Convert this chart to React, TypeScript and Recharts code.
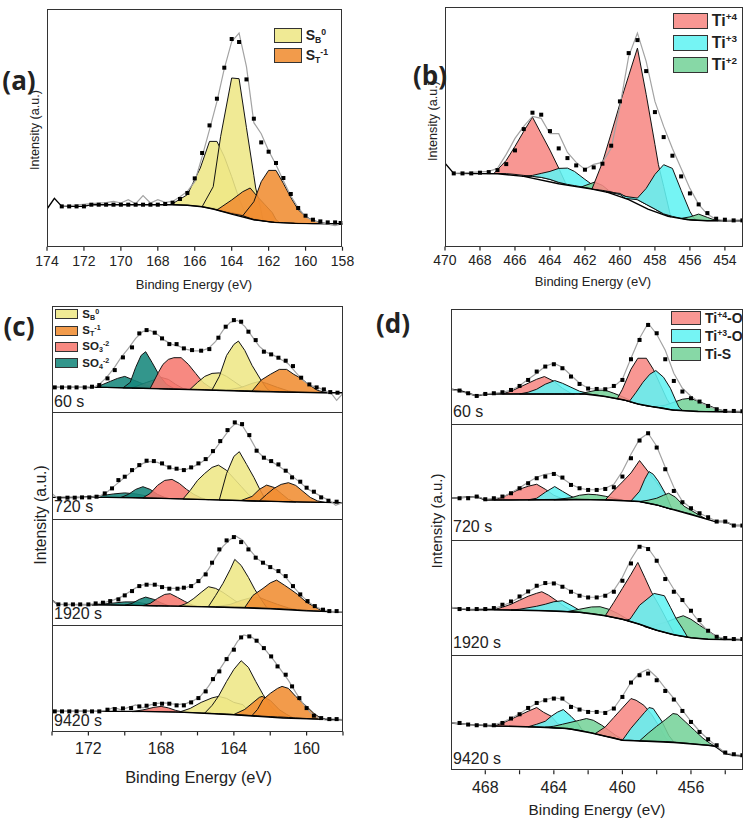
import React from 'react';
import { ComposedChart, XAxis, YAxis, Area, Line } from 'recharts';

type Pt = [number, number];
type Band = [number, number, number]; // [binding energy, background, peak top]

const YELLOW = '#EEE786';
const ORANGE = '#F08D32';
const SALMON = '#F6796F';
const TEAL = '#17877C';
const TI4 = '#F78984';
const TI3 = '#62F3F2';
const TIS = '#76D39A';
const FIT = '#a3a3a3';
const INK = '#222';
const FONT = '"Liberation Sans", Arial, sans-serif';
const BOLD_FONT = '"Open Sans", "Liberation Sans", sans-serif';

// ---------- axes ----------
const A_TICKS = [158, 160, 162, 164, 166, 168, 170, 172, 174];
const B_TICKS = [454, 456, 458, 460, 462, 464, 466, 468, 470];
const C_TICKS = [158, 160, 162, 164, 166, 168, 170, 172, 174];
const C_TICK_LABELS = [160, 164, 168, 172];
const D_TICKS = [454, 456, 458, 460, 462, 464, 466, 468];
const D_TICK_LABELS = [456, 460, 464, 468];
const TIMES = ['60 s', '720 s', '1920 s', '9420 s'];

// ---------- (a) S 2p ----------
const A_POINTS: Pt[] = [[173.2,40.3],[172.8,40.3],[172.4,40.3],[172.0,40.3],[171.6,42],[171.2,42],[170.8,42],[170.4,42],[170.0,42],[169.6,42],[169.2,42],[168.8,42],[168.4,42],[168.0,42],[167.6,42.7],[167.2,44],[166.8,47.7],[166.4,53.7],[166.0,68.3],[165.6,93.7],[165.2,121.3],[164.8,148],[164.4,179],[164.0,207.7],[163.6,204.7],[163.2,167.3],[162.8,128],[162.4,104.3],[162.0,95],[161.6,83.7],[161.2,68.7],[160.8,52.7],[160.4,38.7],[160.0,31],[159.6,27],[159.2,25.3],[158.8,24.3],[158.4,24.3],[158.1,23.7]];
const A_BG: Pt[] = [[174,37.7],[173.6,48.3],[173.2,40.3],[172.0,40.3],[171.6,42],[167.2,42],[166.4,41.5],[165.6,40],[165.0,37.7],[163.9,32],[162.8,27],[161.7,24.3],[160.6,23.3],[158,23]];
const A_FIT: Pt[] = [[173.2,40.3],[171.6,43],[170.8,44],[170.4,45.3],[170.0,43.7],[169.6,47],[169.2,43],[168.8,51],[168.4,43.7],[168.0,47],[167.6,44.3],[167.2,45.3],[166.8,50],[166.4,55.3],[166.0,65],[165.6,90],[165.2,117],[164.8,145],[164.4,178],[164.0,205],[163.6,213.7],[163.2,180],[162.8,124],[162.4,113],[162.0,96],[161.6,82],[161.2,66],[160.8,51],[160.4,39],[160.0,30],[159.6,26],[159.2,24],[158.8,22.5],[158.4,21],[158.0,23]];
const A_SB0_1: Band[] = [[167.2,42,43],[166.4,41.5,52],[165.7,40.2,78.7],[165.2,39,105.3],[164.8,38.3,105.3],[164.4,36.8,90],[164.0,34,70],[163.6,32.5,48],[163.2,30.5,31]];
const A_SB0_2: Band[] = [[165.6,40,40],[165.0,37.7,60],[164.6,36,110],[164.0,34,168.7],[163.6,32.5,168],[163.2,30.5,119],[162.8,27,71],[162.7,27,58.7],[162.45,26.5,40],[162.3,26,26]];
const A_ST_1: Band[] = [[164.8,36.7,36.7],[164.0,33,46.7],[163.4,31,55],[163.0,29,58.7],[162.6,27,50],[162.2,25.5,42],[161.8,24.5,34],[161.6,24.3,27],[161.4,24.2,24.2]];
const A_ST_2: Band[] = [[163.4,31,31],[162.8,27,45],[162.4,26,65],[162.0,25,76.3],[161.6,24.3,76.3],[161.2,24,63.3],[160.8,23.7,49.3],[160.4,23.3,37],[160.0,23.2,30.3],[159.6,23,26.3],[159.2,23,24.3],[158.8,23,23]];

// ---------- (b) Ti 2p ----------
const B_POINTS: Pt[] = [[469.5,73],[469.0,73],[468.5,73],[468.0,73.7],[467.5,74.3],[467.0,76.3],[466.5,82.3],[466.0,96],[465.5,117.3],[465.0,133.7],[464.5,131.7],[464.0,115.3],[463.5,98],[463.0,88.3],[462.5,81],[462.0,76.7],[461.5,79],[461.0,82.7],[460.5,100.7],[460.0,145],[459.5,193.3],[459.0,206.3],[458.5,175.3],[458.0,134.3],[457.5,109.3],[457.0,90.7],[456.5,70],[456.0,53],[455.5,42],[455.0,33.3],[454.5,27.7],[454.0,26.7],[453.5,26],[453.0,26]];
const B_BG: Pt[] = [[470,83.3],[469.5,73],[467.0,72.7],[465.5,70],[463.5,62.7],[461.6,57.3],[460.7,54],[459.5,46.7],[458.4,37.3],[457.25,30],[456.1,26.7],[455.0,25.7],[453,25.7]];
const B_FIT: Pt[] = [[469.5,73],[467.5,75],[467.0,78],[466.5,92],[466.0,108],[465.5,120],[465.0,130],[464.5,128],[464.0,112.7],[463.5,112.7],[463.0,94],[462.5,84],[462.0,77],[461.5,82],[461.0,84],[460.5,98],[460.0,140],[459.5,190],[459.0,213.3],[458.5,185],[458.0,145],[457.5,120],[457.0,98],[456.5,78],[456.0,58],[455.5,42],[455.0,32],[454.5,27],[454.0,26],[453.0,26.5]];
const B_TI4_1: Band[] = [[467.2,73,73],[466.5,72.8,86],[466.0,72,100],[465.5,71,115],[465.0,70,129.3],[464.5,69,112.7],[464.0,67,96.3],[463.5,64,78.3],[463.1,62.5,63]];
const B_TI3_1: Band[] = [[465.6,70,70],[465.0,70,71],[464.5,69,73],[464.0,67,75],[463.5,64,78],[463.0,62,78.3],[462.6,60.8,75],[462.0,59,67],[461.5,57.3,60.7],[461.2,56.5,56.5]];
const B_TI2_1: Band[] = [[462.2,59.5,59.5],[461.45,57.3,64.3],[461.0,56,61],[460.65,55,56],[460.4,54,54]];
const B_TI4_2: Band[] = [[461.6,57.3,57.3],[461.0,56,84],[460.5,54.5,113],[460.0,52,142.7],[459.5,49,170.7],[459.0,46.7,198.3],[458.5,42,152],[458.0,37.3,102],[457.8,35,81.7],[457.5,32.5,60],[457.1,29.5,30]];
const B_TI3_2: Band[] = [[460.8,54.5,54.5],[460.0,52,53],[459.7,48,50],[459.0,46.7,48.3],[458.5,42,58],[458.0,37.3,72],[457.5,32.5,81.7],[457.0,30,78],[456.5,28,56],[456.0,26.7,35],[455.8,26.3,29],[455.6,26,26]];
const B_TI2_2: Band[] = [[456.5,28,28],[456.0,26.7,29.5],[455.5,26,32.3],[455.0,25.7,29],[454.6,25.7,26.5],[454.4,25.7,25.7]];

// ---------- (c) S 2p vs. time ----------
const C1_POINTS: Pt[] = [[173.85,25],[173.45,25],[173.05,25],[172.65,25],[172.2,25],[171.8,25.7],[171.4,27.3],[170.95,34],[170.55,42.3],[170.1,55],[169.6,65],[169.2,79],[168.8,82.3],[168.35,79.7],[167.95,74],[167.55,68.3],[167.15,68.3],[166.75,64],[166.3,62.3],[165.8,61.7],[165.35,63.3],[164.85,74.7],[164.45,85.7],[164.0,92.3],[163.6,90.7],[163.2,80.7],[162.8,72.3],[162.35,60.7],[161.95,58],[161.55,54.7],[161.15,51.7],[160.75,46.3],[160.3,34.7],[159.85,28],[159.45,25],[159.05,23],[158.7,20.3],[158.3,19.7]];
const C1_BG: Pt[] = [[174,25],[171,25],[168,23.5],[165,22],[162,20.5],[159,19.7],[158,19.7]];
const C1_FIT: Pt[] = [[174,25],[172.2,25],[171.8,24],[171.4,28],[171.0,35],[170.6,44],[170.2,55],[169.8,64],[169.4,74],[169.0,81],[168.6,82],[168.2,78],[167.8,72],[167.4,68],[167.0,66],[166.6,63],[166.2,61.5],[165.8,61.5],[165.4,64],[165.0,71],[164.6,82],[164.2,90],[163.8,92],[163.4,86],[163.0,76],[162.6,66],[162.2,60],[161.8,57],[161.4,53],[161.0,48.5],[160.6,40],[160.2,32],[159.8,27],[159.4,25],[159.0,22],[158.6,18],[158.35,12],[158.0,19]];
const C1_SO4_A: Band[] = [[171.6,25,25],[171.2,25,28],[170.8,24.8,31],[170.4,24.7,34],[170.0,24.5,36],[169.6,24.5,33],[169.2,24.3,30],[168.8,24.2,27],[168.4,24,25],[168.0,23.8,23.8]];
const C1_SO4_B: Band[] = [[170.1,24.5,24.5],[169.7,24.5,30],[169.4,24.4,45],[169.1,24.3,57],[168.85,24.2,60.7],[168.5,24,50],[168.1,23.8,37],[167.7,23.6,28],[167.3,23.5,24],[167.1,23.4,23.4]];
const C1_SO3_A: Band[] = [[169.6,24.5,24.5],[168.8,24.2,30],[168.0,23.8,35],[167.6,23.6,33],[167.2,23.5,28],[166.8,23.3,24],[166.6,23.2,23.2]];
const C1_SO3_B: Band[] = [[168.6,24,24],[168.15,23.9,40],[167.9,23.7,48],[167.6,23.6,53],[167.3,23.5,54.7],[166.9,23.3,54.7],[166.5,23.2,48],[166.1,23,39],[165.7,22.8,30],[165.3,22.6,25],[164.9,22.4,22.4]];
const C1_SB0_A: Band[] = [[166.4,23.2,23.2],[166.0,23,30],[165.6,22.8,36],[165.2,22.5,39],[164.8,22.3,39.5],[164.4,22.1,36],[164.0,21.9,31],[163.6,21.7,26],[163.2,21.5,22.5],[162.9,21.4,21.4]];
const C1_SB0_B: Band[] = [[165.2,22.5,22.5],[164.8,22.3,36],[164.4,22.1,57],[164.0,21.9,68],[163.75,21.8,71.3],[163.4,21.6,62],[163.0,21.4,47],[162.5,21.2,32],[162.2,21.1,24],[162.0,20.9,21]];
const C1_ST_A: Band[] = [[164.4,22.1,22.1],[163.6,21.7,25],[163.0,21.4,29],[162.6,21.2,31],[162.2,21,29],[161.6,20.7,25],[161.0,20.4,21.5],[160.6,20.2,20.2]];
const C1_ST_B: Band[] = [[163.0,21.4,21.4],[162.5,21.2,32.3],[162.0,21,38],[161.5,20.7,43],[161.1,20.5,43],[160.7,20.3,38],[160.3,20.1,34],[159.85,19.9,27.3],[159.4,19.8,22],[158.9,19.7,19.7]];

const C2_POINTS: Pt[] = [[173.6,20],[173.15,20.7],[172.75,20.7],[172.35,21],[171.95,21],[171.55,21.7],[171.1,25],[170.7,30],[170.35,38.3],[170.0,41.7],[169.6,48.3],[169.2,53.3],[168.8,57.7],[168.4,57.3],[167.95,55],[167.55,51],[167.15,49.7],[166.75,48.3],[166.35,51],[165.95,55],[165.55,59.3],[165.15,67.3],[164.75,77.3],[164.35,88.3],[163.95,96],[163.55,94.3],[163.15,83.3],[162.75,67.7],[162.35,60.7],[161.95,57.3],[161.55,54],[161.15,47.7],[160.8,41],[160.35,36.7],[160.0,30.7],[159.6,26.7],[159.2,21],[158.8,17.7],[158.35,16.7]];
const C2_BG: Pt[] = [[174,21],[171,21],[168,20],[165,18.5],[162,17],[159,16],[158,15.7]];
const C2_FIT: Pt[] = [[174,25],[173.7,20],[172,21],[171.4,22],[171.0,26],[170.6,32],[170.2,38],[169.8,44],[169.4,50],[169.0,55],[168.6,57],[168.2,56],[167.8,53],[167.4,50],[167.0,49],[166.6,49],[166.2,52],[165.8,56],[165.4,61],[165.0,70],[164.6,80],[164.2,90],[163.9,95],[163.5,92],[163.1,80],[162.7,67],[162.3,60],[161.9,56.5],[161.5,52],[161.1,47],[160.7,41],[160.3,35],[159.9,29],[159.5,25],[159.1,21],[158.7,17.5],[158.4,13],[158.0,16]];
const C2_SO4_A: Band[] = [[172.4,21,21],[171.4,21,22.5],[170.6,21,24.5],[170.0,21,25.5],[169.4,20.8,24.5],[168.8,20.5,22.5],[168.2,20.2,20.5],[167.8,20,20]];
const C2_SO4_B: Band[] = [[170.2,21,21],[169.8,21,24],[169.4,20.8,29],[169.0,20.6,31.7],[168.6,20.4,29],[168.2,20.2,24],[167.8,20,21],[167.6,20,20]];
const C2_SO3: Band[] = [[169.0,20.6,20.6],[168.6,20.4,25],[168.2,20.2,33],[167.8,20,38],[167.4,19.8,39],[167.0,19.6,35],[166.6,19.4,29],[166.2,19.2,24],[165.8,19,20.5],[165.4,18.8,18.8]];
const C2_SB0_A: Band[] = [[166.8,19.4,19.4],[166.4,19.2,28],[166.0,19,38],[165.6,18.9,45],[165.2,18.7,51],[164.85,18.5,53.3],[164.4,18.3,48],[164.0,18.1,40],[163.6,17.9,32],[163.2,17.7,24],[162.8,17.5,18]];
const C2_SB0_B: Band[] = [[164.8,18.5,18.5],[164.4,18.3,45],[164.0,18.1,62],[163.7,17.9,66.7],[163.3,17.7,54],[162.9,17.5,41],[162.6,17.4,30],[162.3,17.2,20],[162.2,17.1,17.1]];
const C2_ST_A: Band[] = [[163.6,17.9,17.9],[163.0,17.6,22],[162.6,17.4,29],[162.2,17.2,33.3],[161.8,17,31],[161.4,16.8,25],[161.0,16.6,19],[160.6,16.4,16.4]];
const C2_ST_B: Band[] = [[162.6,17.4,17.4],[162.2,17.2,24],[161.8,17,30],[161.4,16.8,34],[161.0,16.6,35.7],[160.6,16.4,33],[160.2,16.2,27],[159.8,16.1,21],[159.4,16,17.5],[159.0,16,16]];

const C3_POINTS: Pt[] = [[173.65,21],[173.25,21],[172.85,21],[172.45,21],[172.0,21],[171.6,22],[171.2,22.7],[170.8,24.3],[170.35,26],[170.0,30],[169.6,34.3],[169.2,39.3],[168.8,40.7],[168.35,40.7],[167.95,38.3],[167.55,36.7],[167.1,36.7],[166.75,37.7],[166.35,39.3],[165.95,44.3],[165.55,51],[165.2,62.7],[164.8,76],[164.4,85],[164.0,88.3],[163.6,83.3],[163.2,76],[162.8,67.7],[162.4,62.7],[162.0,58.3],[161.55,54.3],[161.15,49.3],[160.75,39.3],[160.35,31],[159.95,24.3],[159.55,19.3],[159.1,15.7],[158.75,14.3],[158.35,14.3]];
const C3_BG: Pt[] = [[174,25.3],[173.7,21],[171,20.5],[168,19.5],[165,18.3],[162,16.5],[160,14.5],[158,13.3]];
const C3_FIT: Pt[] = [[174,25.3],[173.7,21],[172,21],[171.4,22],[171.0,23.5],[170.6,25.5],[170.2,28.5],[169.8,33],[169.4,37.5],[169.0,40.5],[168.6,41],[168.2,40],[167.8,38],[167.4,37],[167.0,37],[166.6,38],[166.2,41],[165.8,47],[165.4,56],[165.0,68],[164.6,79],[164.2,86],[163.9,89.5],[163.5,85],[163.1,75],[162.7,66.5],[162.3,61.5],[161.9,57.5],[161.5,53],[161.1,47],[160.7,38],[160.3,30],[159.9,23.5],[159.5,18.5],[159.1,15.5],[158.7,14.3],[158.0,13.5]];
const C3_SO4_A: Band[] = [[171.8,20.5,20.5],[170.8,20.3,22],[170.0,20.1,23.5],[169.4,20,23.5],[168.8,19.8,21.5],[168.2,19.6,19.6]];
const C3_SO4_B: Band[] = [[170.0,20.1,20.1],[169.6,20,22],[169.2,19.9,26],[168.85,19.8,28.3],[168.4,19.7,26],[168.0,19.6,22.5],[167.6,19.5,19.8]];
const C3_SO3: Band[] = [[169.0,19.8,19.8],[168.6,19.7,22],[168.2,19.6,27],[167.8,19.5,31],[167.5,19.4,31.7],[167.1,19.3,28],[166.7,19.2,24],[166.3,19,20.5],[166.0,18.9,18.9]];
const C3_SB0_A: Band[] = [[167.0,19.3,19.3],[166.6,19.2,22],[166.2,19,27],[165.8,18.9,33],[165.4,18.8,38.7],[165.0,18.6,37],[164.6,18.5,33],[164.2,18.3,28],[163.8,18.1,23],[163.4,18,19]];
const C3_SB0_B: Band[] = [[165.4,18.8,18.8],[165.0,18.6,30],[164.6,18.5,42],[164.2,18.3,56],[163.95,18.2,66],[163.6,18.1,60],[163.2,17.9,48],[162.85,17.6,36],[162.5,17.4,26],[162.2,17.2,18]];
const C3_ST_A: Band[] = [[165.0,18.6,18.6],[164.2,18.3,21],[163.6,18.1,25],[163.0,17.8,28],[162.6,17.5,28],[162.2,17.2,25],[161.6,16.8,21],[161.0,16.3,17.5],[160.6,16,16]];
const C3_ST_B: Band[] = [[163.4,18,18],[162.95,17.7,30],[162.4,17.3,37],[162.0,17,42.5],[161.65,16.7,45.3],[161.2,16.3,40],[160.8,15.9,35],[160.5,15.5,31],[160.0,15,23],[159.6,14.6,19],[159.2,14.3,15],[159.0,14.2,14.2]];

const C4_POINTS: Pt[] = [[173.85,20],[173.45,20],[173.05,20],[172.65,20],[172.2,20],[171.8,20],[171.4,20],[170.95,21.7],[170.55,22.3],[170.1,23],[169.65,23.3],[169.2,25],[168.8,25.7],[168.35,27.3],[167.95,27.7],[167.55,27.7],[167.15,26],[166.75,26],[166.35,29],[165.95,33.3],[165.55,40],[165.15,52.3],[164.8,60],[164.4,72.3],[164.0,81.7],[163.6,94],[163.15,95],[162.75,90.7],[162.35,83.3],[161.95,75],[161.6,65],[161.15,56.7],[160.8,45],[160.4,33.3],[160.0,23.3],[159.6,15.7],[159.2,13.3],[158.75,12.3],[158.35,12.3]];
const C4_BG: Pt[] = [[174,20],[169,20],[167,19.3],[164,16.7],[161.3,13.3],[158,11.7]];
const C4_FIT: Pt[] = [[174,20],[171.6,20],[171.0,21],[170.6,24],[170.2,21.5],[169.8,24],[169.4,26.5],[169.0,23.5],[168.6,26.5],[168.2,28],[167.8,28.5],[167.4,27.5],[167.0,27],[166.6,28],[166.2,31],[165.8,36],[165.4,45],[165.0,56],[164.6,67],[164.2,78],[163.8,90],[163.45,96.5],[163.0,94],[162.6,88],[162.2,80],[161.8,71],[161.4,61],[161.0,51],[160.6,39],[160.2,28],[159.8,19],[159.4,14],[159.0,11.5],[158.6,11],[158.0,11.7]];
const C4_SO3: Band[] = [[169.6,19.8,19.8],[169.0,19.8,21.5],[168.4,19.7,24],[168.0,19.6,25],[167.6,19.5,23.5],[167.2,19.3,21],[166.8,19.2,19.3]];
const C4_SB0_A: Band[] = [[167.0,19.3,19.3],[166.4,19,23],[165.8,18.5,29],[165.2,18,33.5],[164.85,17.7,35],[164.4,17.3,33],[164.0,16.9,29],[163.5,16.4,26.7],[163.2,16,20],[162.8,15.6,16]];
const C4_SB0_B: Band[] = [[165.6,18.3,18.3],[165.2,18,26],[164.85,17.7,35],[164.4,17.3,50],[164.0,16.9,62],[163.6,16.5,70.7],[163.2,16,64],[162.8,15.6,50],[162.4,15.2,37],[162.0,14.8,26],[161.6,14.4,18],[161.4,14.2,14.2]];
const C4_ST_A: Band[] = [[164.0,16.9,16.9],[163.4,16.3,22],[163.0,15.9,28],[162.6,15.5,34],[162.45,15.3,35],[162.0,14.8,31],[161.5,14.3,21.7],[161.1,14,17],[160.75,13.7,13.7]];
const C4_ST_B: Band[] = [[163.0,15.9,15.9],[162.7,15.6,22],[162.4,15.2,31.7],[162.0,14.8,38],[161.6,14.4,43],[161.35,14.3,45],[161.0,13.9,43],[160.6,13.5,35],[160.0,12.9,25],[159.6,12.5,18],[159.2,12.2,13],[159.0,12.1,12.1]];

// ---------- (d) Ti 2p vs. time ----------
const D1_POINTS: Pt[] = [[469.5,33.7],[469.0,31],[468.5,28.3],[468.0,30.3],[467.5,31],[467.0,32],[466.5,34.3],[466.0,38.3],[465.5,44.3],[465.0,52.7],[464.5,57.7],[464.0,60],[463.5,56],[463.0,47.7],[462.5,40.3],[462.0,35.7],[461.5,35.3],[461.0,35],[460.5,38.3],[460.0,44.3],[459.5,65],[459.0,84.3],[458.5,99.3],[458.0,91],[457.5,65],[457.0,43.3],[456.5,32.7],[456.0,26],[455.5,22.7],[455.0,18.3],[454.5,15],[454.0,13.3],[453.5,13.3],[453.0,13]];
const D1_BG: Pt[] = [[470,35],[469.5,33.7],[469.0,31],[468.5,28.3],[468.0,30.3],[462.2,30.3],[461.0,27.7],[459.9,24.3],[459.1,20.3],[458.3,17.7],[457.1,14.3],[455.6,12.7],[453,12.3]];
const D1_FIT: Pt[] = [[470,35],[468.5,28.5],[468.0,30.5],[467.0,32],[466.5,34],[466.0,38.5],[465.5,45],[465.0,51],[464.5,58],[464.0,61],[463.5,57],[463.0,49],[462.5,41],[462.0,36],[461.5,35],[461.0,35.5],[460.5,37.5],[460.0,45],[459.5,66],[459.0,86],[458.5,101],[458.0,90],[457.5,74],[457.0,51],[456.5,36],[456.0,28],[455.5,22],[455.0,18],[454.5,15],[454.0,13.5],[453.0,13]];
const D1_TI4_A: Band[] = [[467.0,30.3,30.3],[466.5,30.3,33],[466.0,30.3,37],[465.5,30.3,41],[465.0,30.3,45],[464.55,30.3,47.7],[464.0,30.3,43],[463.5,30.3,36],[463.0,30.3,31],[462.8,30.3,30.3]];
const D1_TI3_A: Band[] = [[466.0,30.3,30.3],[465.5,30.3,32],[465.0,30.3,35],[464.5,30.3,40],[463.95,30.3,43.7],[463.5,30.3,41],[463.0,30.3,37],[462.5,30.3,33],[462.0,30.3,31],[461.8,30.3,30.3]];
const D1_TIS_A: Band[] = [[462.5,30.3,30.3],[462.0,30.3,32.3],[461.5,29.3,34],[461.0,27.7,34],[460.5,26,31],[460.0,24.5,27.5],[459.5,22.3,23.5],[459.3,21.3,21.3]];
const D1_TI4_B: Band[] = [[460.3,25.5,25.5],[460.0,24.5,35],[459.5,22.3,55],[459.1,20.5,66],[458.6,18.5,66],[458.2,17.5,55],[457.8,16.5,40],[457.4,15.2,25],[457.0,14.3,14.3]];
const D1_TI3_B: Band[] = [[459.6,22.7,22.7],[459.2,20.8,32],[458.8,19,42],[458.4,17.8,50],[458.05,17.2,53.7],[457.6,16.2,47],[457.2,14.7,36],[456.9,14.2,24.3],[456.7,14,17],[456.5,13.8,13.8]];
const D1_TIS_B: Band[] = [[458.2,17.5,17.5],[457.5,16,19],[457.0,14.3,22],[456.5,13.7,25],[456.05,13.3,26],[455.5,12.9,22.5],[455.0,12.7,19],[454.5,12.6,15.5],[454.0,12.5,13]];

const D2_POINTS: Pt[] = [[469.5,41],[469.0,41],[468.5,42.7],[468.0,40],[467.5,41],[467.0,42.7],[466.5,46],[466.0,51],[465.5,56],[465.0,61],[464.5,62.7],[464.0,65.3],[463.5,61.7],[463.0,54.3],[462.5,51],[462.0,49.3],[461.5,49.3],[461.0,50.3],[460.5,52],[460.0,62.7],[459.5,81],[459.0,98.7],[458.5,106],[458.0,91.7],[457.5,70],[457.0,48.3],[456.5,37],[456.0,31],[455.5,26],[455.0,22],[454.5,17.7],[454.0,17.7],[453.5,13.7],[453.0,13.7]];
const D2_BG: Pt[] = [[470,41],[468.5,42.7],[468.0,39.3],[466.7,39.3],[462.8,39.8],[460.9,39.3],[459.0,37.7],[458.0,34.3],[457.0,29.3],[455.6,22.7],[454.6,17.7],[454.0,17.7],[453.5,13.7],[453,13.7]];
const D2_FIT: Pt[] = [[470,41],[468.5,42.7],[468.0,40],[467.0,42],[466.5,46.5],[466.0,51.5],[465.5,57],[465.0,62],[464.5,65],[464.0,66],[463.5,61],[463.0,55],[462.5,51],[462.0,49.5],[461.5,49.5],[461.0,51],[460.5,55],[460.0,68],[459.5,85],[459.0,100],[458.5,106],[458.0,93],[457.5,72],[457.0,52],[456.5,38],[456.0,31],[455.5,26],[455.0,22],[454.5,18],[454.0,17.7],[453.5,14],[453.0,13.7]];
const D2_TI4_A: Band[] = [[467.5,39.3,39.3],[467.0,39.3,42],[466.5,39.3,46],[466.0,39.4,50],[465.5,39.4,53],[465.0,39.5,55],[464.5,39.5,50],[464.0,39.5,44],[463.5,39.6,40.5],[463.2,39.6,39.6]];
const D2_TI3_A: Band[] = [[465.5,39.4,39.4],[465.0,39.5,41],[464.5,39.5,47],[463.95,39.5,52.7],[463.5,39.6,48],[463.0,39.7,43],[462.6,39.8,40],[462.4,39.8,39.8]];
const D2_TIS_A: Band[] = [[464.0,39.5,39.5],[463.0,39.7,41.5],[462.5,39.8,44],[462.0,39.8,45],[461.5,39.6,44.5],[461.0,39.4,43],[460.5,39.2,41],[460.0,38.9,39.2]];
const D2_TI4_B: Band[] = [[461.0,39.4,39.4],[460.5,39.2,48.7],[460.0,38.9,57.3],[459.5,38.3,66.3],[459.0,37.7,78.7],[458.5,36,67.7],[458.0,34.3,57],[457.5,31.8,45],[457.1,29.8,30]];
const D2_TI3_B: Band[] = [[459.5,38.3,38.3],[459.0,37.7,48],[458.7,37,60],[458.45,36.2,67.7],[458.2,35.3,65],[457.9,34,58],[457.5,31.8,46],[457.3,30.8,38],[457.1,29.8,29.8]];
const D2_TIS_B: Band[] = [[459.0,37.7,37.7],[458.5,36,39],[458.0,34.3,41],[457.6,32.3,44],[457.3,30.8,46],[456.9,29.5,42],[456.4,27,33],[456.0,25.3,29],[455.5,22.3,24],[455.2,21,21]];

const D3_POINTS: Pt[] = [[469.5,46.2],[469.0,46.2],[468.5,46.2],[468.0,46.2],[467.5,47.2],[467.0,50.5],[466.5,53.8],[466.0,58.8],[465.5,63.8],[465.0,69.5],[464.5,72.2],[464.0,71.8],[463.5,68.5],[463.0,63.5],[462.5,59.5],[462.0,57.8],[461.5,57.8],[461.0,59.5],[460.5,63.5],[460.0,74.5],[459.5,91.8],[459.0,108.5],[458.5,106.2],[458.0,94.5],[457.5,76.2],[457.0,63.5],[456.5,55.2],[456.0,44.5],[455.5,35.2],[455.0,24.5],[454.5,18.5],[454.0,17.2],[453.5,16.2],[453.0,16.2]];
const D3_BG: Pt[] = [[470,47.8],[469.0,45.5],[467.5,45.5],[464.5,44.5],[462.5,43],[461.0,39.5],[460.0,36],[459.0,31],[458.0,25],[457.0,20.5],[456.0,17.5],[455.0,16],[453,15.5]];
const D3_FIT: Pt[] = [[470,47.8],[469.0,46],[467.5,47],[467.0,49.5],[466.5,53],[466.0,58],[465.5,63.5],[465.0,68.5],[464.5,71.5],[464.0,72.5],[463.5,69],[463.0,64],[462.5,60],[462.0,58],[461.5,58],[461.0,60],[460.5,65],[460.0,78],[459.5,96],[459.0,109.5],[458.5,107],[458.0,95],[457.5,80],[457.0,66],[456.5,55],[456.0,44],[455.5,33],[455.0,24],[454.5,18.5],[454.0,17],[453.0,16]];
const D3_TI4_A: Band[] = [[467.5,45.5,45.5],[467.0,45.3,48],[466.5,45.2,51],[466.0,45,55],[465.5,44.9,59],[465.0,44.8,62],[464.7,44.7,63.5],[464.3,44.5,60],[463.8,44.2,54],[463.3,43.8,48],[462.8,43.3,43.3]];
const D3_TI3_A: Band[] = [[466.5,45.2,45.2],[466.0,45,46],[465.0,44.8,49],[464.5,44.5,51],[464.0,44.3,53.5],[463.5,44,54.5],[463.0,43.5,50],[462.6,43.1,46],[462.2,42.3,42.3]];
const D3_TIS_A: Band[] = [[463.2,43.7,43.7],[462.5,43,46],[461.8,41.8,48.3],[461.3,40.5,48.5],[460.8,38.7,46],[460.3,37,42],[459.8,35,37],[459.4,33,33]];
const D3_TI4_B: Band[] = [[461.0,39.5,39.5],[460.5,37.8,52.9],[460.0,36,66.9],[459.5,33.5,80.9],[459.1,31.5,92.8],[458.7,29,78],[458.3,26.5,63],[457.8,24,48],[457.4,22.3,35],[457.0,20.5,22],[456.9,20.2,20.2]];
const D3_TI3_B: Band[] = [[459.8,35,35],[459.55,34,36.2],[459.0,31,50],[458.15,25.8,61.8],[457.55,23,59.5],[457.2,21.3,48],[456.85,20,36.2],[456.5,19,27],[456.2,18.2,18.2]];
const D3_TIS_B: Band[] = [[458.7,28.5,28.5],[458.0,25,30.5],[457.4,22.5,33.5],[456.85,20,37.2],[456.45,18.8,39.5],[456.0,17.5,36],[455.5,16.7,30],[455.0,16,24.5],[454.6,15.8,20],[454.2,15.7,16.5],[454.0,15.6,15.6]];

const D4_POINTS: Pt[] = [[469.5,47.3],[469.0,45.7],[468.5,45],[468.0,45],[467.5,45],[467.0,47.3],[466.5,51.7],[466.0,56],[465.5,62.3],[465.0,67.3],[464.5,70],[464.0,71.7],[463.5,71.7],[463.0,63.3],[462.5,60.7],[462.0,58.3],[461.5,58.3],[461.0,57.3],[460.5,61.7],[460.0,73.3],[459.5,87.7],[459.0,95],[458.5,96.7],[458.0,90],[457.5,79.3],[457.0,70.7],[456.5,59.3],[456.0,48.3],[455.5,38.3],[455.0,31],[454.5,25],[454.0,17.7],[453.5,16],[453.0,15]];
const D4_BG: Pt[] = [[470,47.3],[469.0,45.7],[467.5,44.3],[465.1,43.3],[463.2,41.7],[461.8,37.3],[460.8,33.3],[460.0,30],[458.9,29.3],[457.0,27.7],[455.0,25],[454.6,24],[454.0,16.7],[453.5,15],[453,14.3]];
const D4_FIT: Pt[] = [[470,47.3],[469.0,45.7],[468.0,45],[467.5,45.5],[467.0,48],[466.5,52],[466.0,56.5],[465.5,62],[465.0,67],[464.5,70.5],[464.0,72.7],[463.5,71],[463.0,65],[462.5,61],[462.0,59],[461.5,58.5],[461.0,58],[460.5,62],[460.0,74],[459.5,88],[459.0,97],[458.5,101],[458.0,93],[457.5,82],[457.0,72],[456.5,60],[456.0,49],[455.5,39],[455.0,31],[454.5,24],[454.0,17.5],[453.5,15.5],[453.0,15]];
const D4_TI4_A: Band[] = [[467.5,44.3,44.3],[467.0,44.1,47],[466.5,43.9,51],[466.0,43.7,55],[465.5,43.5,59],[465.0,43.3,62.7],[464.6,43,58],[464.15,42.6,54],[463.8,42.3,47],[463.4,42,43],[463.2,41.7,41.7]];
const D4_TI3_A: Band[] = [[465.5,43.5,43.5],[465.0,43.3,46],[464.5,43,49],[464.15,42.6,54],[463.8,42.3,58],[463.45,41.9,60.7],[463.0,41,54],[462.6,40,47],[462.3,39,39]];
const D4_TIS_A: Band[] = [[464.5,43,43],[464.0,42.6,44],[463.5,42.1,46],[463.0,41.3,48],[462.5,40,50],[462.1,38.5,51.7],[461.7,37,50],[461.2,35,45],[460.8,33.3,40],[460.4,31.7,35],[460.0,30,31]];
const D4_TI4_B: Band[] = [[461.6,36.5,36.5],[461.0,34,43.3],[460.5,32.5,52.8],[460.0,30,62.3],[459.5,29.9,71.7],[459.2,29.8,70],[458.75,29.4,65],[458.3,29.1,56],[457.9,28.9,45],[457.5,28.7,33],[457.3,28.6,28.6]];
const D4_TI3_B: Band[] = [[460.0,30,30],[459.5,29.9,42],[459.0,29.4,52],[458.7,29.3,58],[458.45,29.2,62.7],[458.2,29,61.7],[457.7,28.8,49],[457.3,28.5,35],[457.0,28.2,28.2]];
const D4_TIS_B: Band[] = [[459.0,29.4,29.4],[458.5,29.2,37],[458.0,29,44],[457.5,28.7,50.5],[457.05,28.2,56.7],[456.8,27.9,56],[456.3,27.2,48],[455.8,26.3,40],[455.3,25.3,32],[454.9,24.8,27],[454.6,24,24]];

// ---------- helpers ----------
type Peak = { pts: Band[]; color: string };
type SpecProps = {
  left: number; top: number; width: number; height: number;
  domain: [number, number]; ticks: number[]; labels: number[] | null;
  fontSize?: number; tickGap?: number;
  points: Pt[]; fit: Pt[]; bg: Pt[]; peaks: Peak[];
};

const PAD = 24;
const toPts = (a: Pt[]) => a.map(([e, v]) => ({ e, v }));
const toBand = (a: Band[]) => a.map(([e, lo, hi]) => ({ e, r: [lo, hi] }));

function Spectrum(p: SpecProps) {
  const axisH = p.labels ? 34 : 6;
  return (
    <div style={{ position: 'absolute', left: p.left - PAD, top: p.top - 4 }}>
      <ComposedChart width={p.width + 2 * PAD} height={p.height + 4 + axisH}
        margin={{ top: 4, right: PAD, bottom: 0, left: PAD }}>
        <XAxis dataKey="e" type="number" domain={p.domain} reversed allowDataOverflow
          ticks={p.ticks} interval={0} height={axisH} axisLine={false}
          tickSize={4} tickMargin={p.tickGap ?? 5}
          tickLine={{ stroke: INK, strokeWidth: 1.2 }}
          tick={p.labels ? { fill: INK, fontSize: p.fontSize, fontFamily: FONT } : false}
          tickFormatter={(v: number) => (p.labels && p.labels.includes(v) ? String(v) : '')} />
        <YAxis hide domain={[0, p.height]} allowDataOverflow />
        {p.peaks.map((pk, i) => (
          <Area key={i} data={toBand(pk.pts)} dataKey="r" type="linear" fill={pk.color}
            fillOpacity={0.88} stroke="#111" strokeWidth={1} isAnimationActive={false} />
        ))}
        <Line data={toPts(p.bg)} dataKey="v" type="linear" stroke="#000" strokeWidth={1.4}
          dot={false} isAnimationActive={false} />
        <Line data={toPts(p.fit)} dataKey="v" type="linear" stroke={FIT} strokeWidth={1.2}
          dot={false} isAnimationActive={false} />
        <Line data={toPts(p.points)} dataKey="v" stroke="none" isAnimationActive={false}
          dot={(d: any) => <rect key={d.index} x={d.cx - 2} y={d.cy - 2} width={4} height={4} fill="#000" />} />
      </ComposedChart>
    </div>
  );
}

function Frame({ x, y, w, h, bottom = true }: { x: number; y: number; w: number; h: number; bottom?: boolean }) {
  return (
    <div style={{
      position: 'absolute', left: x, top: y, width: w, height: h, boxSizing: 'border-box',
      borderStyle: 'solid', borderColor: '#333',
      borderWidth: `1.4px 1.4px ${bottom ? 1.4 : 0}px 1.4px`, pointerEvents: 'none',
    }} />
  );
}

function Txt({ cx, cy, size, rotate = 0, bold = false, family = FONT, children }: any) {
  return (
    <div style={{
      position: 'absolute', left: cx, top: cy, transform: `translate(-50%, -50%) rotate(${rotate}deg)`,
      fontSize: size, fontFamily: family, fontWeight: bold ? 700 : 400, lineHeight: 1,
      whiteSpace: 'nowrap', color: INK,
    }}>{children}</div>
  );
}

function Tag({ x, base, size, children }: any) {
  return (
    <div style={{
      position: 'absolute', left: x, top: base - size * 0.85, fontSize: size, fontFamily: FONT,
      lineHeight: 1, whiteSpace: 'nowrap', color: INK,
    }}>{children}</div>
  );
}

const Sup = ({ children }: any) => <span style={{ fontSize: '0.62em', verticalAlign: '0.6em', lineHeight: 0 }}>{children}</span>;
const Sub = ({ children }: any) => <span style={{ fontSize: '0.62em', verticalAlign: '-0.35em', lineHeight: 0 }}>{children}</span>;

function Key({ x, y, w, h, color, size, children }: any) {
  return (
    <div style={{ position: 'absolute', left: x, top: y, height: h, display: 'flex', alignItems: 'center' }}>
      <div style={{ width: w, height: h, boxSizing: 'border-box', border: '1.3px solid #333', background: '#fff' }}>
        <div style={{ width: '100%', height: '100%', background: color, opacity: 0.88 }} />
      </div>
      <div style={{ marginLeft: 4, fontSize: size, fontWeight: 700, fontFamily: FONT, lineHeight: 1, whiteSpace: 'nowrap', color: INK }}>
        {children}
      </div>
    </div>
  );
}

const SB0 = () => <>S<Sub>B</Sub><Sup>0</Sup></>;
const ST1 = () => <>S<Sub>T</Sub><Sup>-1</Sup></>;

// ---------- layout of the stacked panels ----------
const C_ROWS = [
  { points: C1_POINTS, fit: C1_FIT, bg: C1_BG, peaks: [
    { pts: C1_SO4_A, color: TEAL }, { pts: C1_SO3_A, color: SALMON }, { pts: C1_SO4_B, color: TEAL },
    { pts: C1_SO3_B, color: SALMON }, { pts: C1_SB0_A, color: YELLOW }, { pts: C1_ST_A, color: ORANGE },
    { pts: C1_SB0_B, color: YELLOW }, { pts: C1_ST_B, color: ORANGE }] },
  { points: C2_POINTS, fit: C2_FIT, bg: C2_BG, peaks: [
    { pts: C2_SO4_A, color: TEAL }, { pts: C2_SO4_B, color: TEAL }, { pts: C2_SO3, color: SALMON },
    { pts: C2_SB0_A, color: YELLOW }, { pts: C2_SB0_B, color: YELLOW },
    { pts: C2_ST_A, color: ORANGE }, { pts: C2_ST_B, color: ORANGE }] },
  { points: C3_POINTS, fit: C3_FIT, bg: C3_BG, peaks: [
    { pts: C3_SO4_A, color: TEAL }, { pts: C3_SO4_B, color: TEAL }, { pts: C3_SO3, color: SALMON },
    { pts: C3_SB0_A, color: YELLOW }, { pts: C3_ST_A, color: ORANGE }, { pts: C3_SB0_B, color: YELLOW },
    { pts: C3_ST_B, color: ORANGE }] },
  { points: C4_POINTS, fit: C4_FIT, bg: C4_BG, peaks: [
    { pts: C4_SO3, color: SALMON }, { pts: C4_SB0_A, color: YELLOW }, { pts: C4_SB0_B, color: YELLOW },
    { pts: C4_ST_A, color: ORANGE }, { pts: C4_ST_B, color: ORANGE }] },
];
const D_ROWS = [
  { points: D1_POINTS, fit: D1_FIT, bg: D1_BG, peaks: [
    { pts: D1_TI4_A, color: TI4 }, { pts: D1_TI3_A, color: TI3 }, { pts: D1_TIS_A, color: TIS },
    { pts: D1_TI4_B, color: TI4 }, { pts: D1_TIS_B, color: TIS }, { pts: D1_TI3_B, color: TI3 }] },
  { points: D2_POINTS, fit: D2_FIT, bg: D2_BG, peaks: [
    { pts: D2_TI4_A, color: TI4 }, { pts: D2_TI3_A, color: TI3 }, { pts: D2_TIS_A, color: TIS },
    { pts: D2_TI4_B, color: TI4 }, { pts: D2_TI3_B, color: TI3 }, { pts: D2_TIS_B, color: TIS }] },
  { points: D3_POINTS, fit: D3_FIT, bg: D3_BG, peaks: [
    { pts: D3_TI4_A, color: TI4 }, { pts: D3_TI3_A, color: TI3 }, { pts: D3_TIS_A, color: TIS },
    { pts: D3_TIS_B, color: TIS }, { pts: D3_TI4_B, color: TI4 }, { pts: D3_TI3_B, color: TI3 }] },
  { points: D4_POINTS, fit: D4_FIT, bg: D4_BG, peaks: [
    { pts: D4_TI4_A, color: TI4 }, { pts: D4_TI3_A, color: TI3 }, { pts: D4_TIS_A, color: TIS },
    { pts: D4_TI4_B, color: TI4 }, { pts: D4_TI3_B, color: TI3 }, { pts: D4_TIS_B, color: TIS }] },
];
const C_TOPS = [306, 412.4, 518.8, 625.2];
const C_H = 106.4;
const C_TAG_BASE = [408, 513, 620, 727];
const D_TOPS = [309, 424.25, 539.5, 654.75];
const D_H = 115.25;
const D_TAG_BASE = [418, 533, 649, 765];

export default function App() {
  return (
    <div style={{ position: 'absolute', left: 0, top: 0, width: 750, height: 820, background: '#fff', overflow: 'hidden' }}>
      {/* (a) */}
      <Spectrum left={46.5} top={9.3} width={295.5} height={237.7} domain={[158, 174]}
        ticks={A_TICKS} labels={A_TICKS} fontSize={14} tickGap={5}
        points={A_POINTS} fit={A_FIT} bg={A_BG}
        peaks={[{ pts: A_SB0_1, color: YELLOW }, { pts: A_SB0_2, color: YELLOW },
          { pts: A_ST_1, color: ORANGE }, { pts: A_ST_2, color: ORANGE }]} />
      <Frame x={46.5} y={9.3} w={295.5} h={237.7} />
      <Key x={274} y={28.3} w={27.7} h={14.4} color={YELLOW} size={14}><SB0 /></Key>
      <Key x={274} y={48.3} w={27.7} h={14.4} color={ORANGE} size={14}><ST1 /></Key>
      <Txt cx={35} cy={130} size={12.6} rotate={-90}>Intensity (a.u.)</Txt>
      <Txt cx={194} cy={284} size={13}>Binding Energy (eV)</Txt>
      <Txt cx={19} cy={80} size={26} bold family={BOLD_FONT}>(a)</Txt>

      {/* (b) */}
      <Spectrum left={445.3} top={7.3} width={297.4} height={239.4} domain={[453, 470]}
        ticks={B_TICKS} labels={B_TICKS} fontSize={14} tickGap={5}
        points={B_POINTS} fit={B_FIT} bg={B_BG}
        peaks={[{ pts: B_TI4_1, color: TI4 }, { pts: B_TI3_1, color: TI3 }, { pts: B_TI2_1, color: TIS },
          { pts: B_TI4_2, color: TI4 }, { pts: B_TI3_2, color: TI3 }, { pts: B_TI2_2, color: TIS }]} />
      <Frame x={445.3} y={7.3} w={297.4} h={239.4} />
      <Key x={673} y={12.7} w={34.7} h={16.3} color={TI4} size={16}>Ti<Sup>+4</Sup></Key>
      <Key x={673} y={35} w={34.7} h={16.3} color={TI3} size={16}>Ti<Sup>+3</Sup></Key>
      <Key x={673} y={56.7} w={34.7} h={16.3} color={TIS} size={16}>Ti<Sup>+2</Sup></Key>
      <Txt cx={433} cy={121} size={12.6} rotate={-90}>Intensity (a.u.)</Txt>
      <Txt cx={593} cy={281} size={13}>Binding Energy (eV)</Txt>
      <Txt cx={430} cy={75} size={26} bold family={BOLD_FONT}>(b)</Txt>

      {/* (c) */}
      {C_ROWS.map((row, i) => (
        <Spectrum key={i} left={52.3} top={C_TOPS[i]} width={291} height={C_H} domain={[158, 174]}
          ticks={C_TICKS} labels={i === 3 ? C_TICK_LABELS : null} fontSize={16} tickGap={7}
          points={row.points} fit={row.fit} bg={row.bg} peaks={row.peaks} />
      ))}
      {C_TOPS.map((t, i) => <Frame key={i} x={52.3} y={t} w={291} h={C_H} bottom={i === 3} />)}
      {TIMES.map((s, i) => <Tag key={i} x={54} base={C_TAG_BASE[i]} size={16}>{s}</Tag>)}
      <Key x={55} y={309.3} w={23.3} h={10} color={YELLOW} size={11.5}><SB0 /></Key>
      <Key x={55} y={325.7} w={23.3} h={10} color={ORANGE} size={11.5}><ST1 /></Key>
      <Key x={55} y={341.7} w={23.3} h={10} color={SALMON} size={11.5}>SO<Sub>3</Sub><Sup>-2</Sup></Key>
      <Key x={55} y={358.3} w={23.3} h={10} color={TEAL} size={11.5}>SO<Sub>4</Sub><Sup>-2</Sup></Key>
      <Txt cx={41} cy={515} size={15.7} rotate={-90}>Intensity (a.u.)</Txt>
      <Txt cx={198.5} cy={777} size={16.4}>Binding Energy (eV)</Txt>
      <Txt cx={19} cy={326} size={26} bold family={BOLD_FONT}>(c)</Txt>

      {/* (d) */}
      {D_ROWS.map((row, i) => (
        <Spectrum key={i} left={451.3} top={D_TOPS[i]} width={291.4} height={D_H} domain={[453, 470]}
          ticks={D_TICKS} labels={i === 3 ? D_TICK_LABELS : null} fontSize={16} tickGap={7}
          points={row.points} fit={row.fit} bg={row.bg} peaks={row.peaks} />
      ))}
      {D_TOPS.map((t, i) => <Frame key={i} x={451.3} y={t} w={291.4} h={D_H} bottom={i === 3} />)}
      {TIMES.map((s, i) => <Tag key={i} x={453} base={D_TAG_BASE[i]} size={16}>{s}</Tag>)}
      <Key x={670.7} y={311} w={30.3} h={14} color={TI4} size={14}>Ti<Sup>+4</Sup>-O</Key>
      <Key x={670.7} y={329.3} w={30.3} h={14} color={TI3} size={14}>Ti<Sup>+3</Sup>-O</Key>
      <Key x={670.7} y={346.7} w={30.3} h={14} color={TIS} size={14}>Ti-S</Key>
      <Txt cx={436} cy={521} size={15} rotate={-90}>Intensity (a.u.)</Txt>
      <Txt cx={597} cy={810} size={15.3}>Binding Energy (eV)</Txt>
      <Txt cx={393} cy={323} size={26} bold family={BOLD_FONT}>(d)</Txt>
    </div>
  );
}
